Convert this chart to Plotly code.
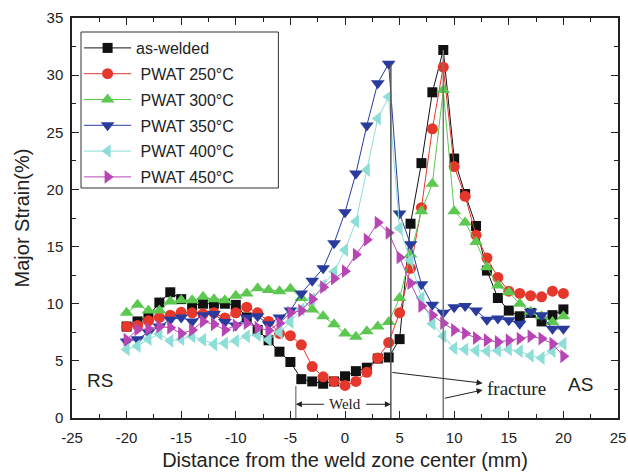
import plotly.graph_objects as go

x_mm = list(range(-20, 21))

as_welded = [8.0, 8.45, 8.9, 10.1, 11.0, 10.4, 9.9, 10.0, 10.0, 10.0, 9.9, 8.8, 7.7, 6.8, 5.8, 4.9, 3.4, 3.2, 3.0, 3.2,
             3.65, 4.1, 4.4, 5.2, 5.3, 6.9, 17.0, 22.3, 28.5, 32.2, 22.7, 19.6, 16.8, 12.9, 10.5, 9.4, 8.9, 9.2, 8.45, 9.0, 9.5]
pwat_250 = [8.0, 8.1, 8.5, 8.8, 9.0, 9.25, 9.2, 9.1, 9.2, 8.75, 9.2, 9.7, 9.2, 8.45, 7.4, 7.2, 6.4, 4.5, 3.6, 3.2,
            2.85, 3.2, 4.0, 5.25, 6.6, 9.2, 13.1, 18.4, 25.3, 30.7, 22.0, 19.4, 16.0, 14.0, 12.3, 11.1, 10.9, 10.7, 10.6, 11.1, 10.9]
pwat_300 = [9.2, 9.9, 9.4, 9.4, 10.2, 10.3, 10.3, 10.6, 10.4, 10.3, 10.7, 10.9, 11.35, 11.2, 11.1, 11.3, 10.5, 9.5, 8.9, 8.2,
            7.4, 7.1, 7.6, 8.0, 8.4, 10.5, 14.3, 18.1, 20.5, 28.7, 18.1, 17.1, 15.4, 13.2, 11.6, 11.0, 10.0, 9.3, 8.9, 8.4, 8.9]
pwat_350 = [6.7, 6.9, 7.5, 8.0, 8.6, 8.8, 8.45, 9.0, 9.1, 8.4, 8.1, 8.8, 8.9, 8.2, 8.8, 9.4, 10.9, 12.0, 13.1, 15.3,
            18.0, 21.4, 25.6, 29.3, 31.0, 17.9, 15.2, 11.7, 9.9, 9.2, 9.7, 9.8, 9.4, 8.6, 8.7, 8.55, 8.25, 9.3, 9.0, 7.8, 7.8]
pwat_400 = [6.0, 6.3, 6.9, 7.35, 6.75, 6.9, 7.15, 6.85, 6.45, 6.55, 6.75, 7.15, 7.25, 6.85, 7.5, 8.4, 9.5, 10.4, 11.6, 12.8,
            14.7, 17.2, 21.7, 26.2, 28.1, 16.6, 13.8, 10.5, 8.25, 7.15, 6.1, 6.0, 5.9, 5.85, 5.9, 6.0, 5.85, 5.45, 5.25, 5.85, 6.5]
pwat_450 = [6.85, 7.75, 7.8, 8.0, 7.9, 7.4, 7.7, 8.45, 8.2, 7.7, 8.1, 8.3, 7.9, 7.65, 8.3, 9.2, 9.4, 10.4, 11.45, 12.2,
            12.85, 14.3, 15.6, 17.1, 16.2, 14.05, 11.8, 9.8, 9.0, 8.3, 7.7, 7.4, 7.0, 6.8, 6.65, 6.8, 6.95, 7.15, 6.95, 6.5, 5.4]

series_names = ["as-welded", " PWAT 250°C", " PWAT 300°C", " PWAT 350°C", " PWAT 400°C", " PWAT 450°C"]
series_values = [as_welded, pwat_250, pwat_300, pwat_350, pwat_400, pwat_450]
colors = ["#111111", "#e5372b", "#5cc850", "#2a3b9e", "#8cded7", "#b746b4"]
symbols = ["square", "circle", "triangle-up", "triangle-down", "triangle-left", "triangle-right"]
sizes = [10, 11, 12, 12, 12, 12]

x_ticks = [-25, -20, -15, -10, -5, 0, 5, 10, 15, 20, 25]
y_ticks = [0, 5, 10, 15, 20, 25, 30, 35]

# annotation positions (mm, %)
weld_left, weld_right = -4.5, 4.2
fracture_x = 9.0

fig = go.Figure()
for i, (name, vals) in enumerate(zip(series_names, series_values)):
    fig.add_trace(go.Scatter(
        x=x_mm, y=vals, name=name, mode="lines+markers",
        legendgroup=f"g{i}",
        line=dict(color=colors[i], width=1),
        marker=dict(symbol=symbols[i], size=sizes[i], color=colors[i], line=dict(width=0)),
    ))

line_col = "#555555"
fig.add_shape(type="line", x0=weld_right, x1=weld_right, y0=0, y1=31.0, line=dict(color=line_col, width=1.5), layer="above")
fig.add_shape(type="line", x0=fracture_x, x1=fracture_x, y0=0, y1=32.2, line=dict(color="#777777", width=1.5), layer="above")
fig.add_shape(type="line", x0=weld_left, x1=weld_left, y0=0, y1=2.8, line=dict(color=line_col, width=1), layer="above")

# legend frame
fig.add_shape(type="rect", xref="paper", yref="paper", x0=0.0165, x1=0.378, y0=0.575, y1=0.965,
              line=dict(color="#333333", width=1), fillcolor="rgba(0,0,0,0)", layer="above")

serif = "Liberation Serif, Times New Roman, serif"
sans = "Liberation Sans, Arial, sans-serif"

fig.add_annotation(x=weld_left, y=1.2, ax=-1.8, ay=1.2, xref="x", yref="y", axref="x", ayref="y",
                   showarrow=True, arrowhead=2, arrowsize=1.2, arrowwidth=1, arrowcolor="#222", text="")
fig.add_annotation(x=weld_right, y=1.2, ax=1.8, ay=1.2, xref="x", yref="y", axref="x", ayref="y",
                   showarrow=True, arrowhead=2, arrowsize=1.2, arrowwidth=1, arrowcolor="#222", text="")
fig.add_annotation(x=0, y=1.2, text="Weld", showarrow=False, font=dict(family=serif, size=15, color="#222"))

fig.add_annotation(x=12.6, y=3.05, ax=weld_right, ay=4.0, xref="x", yref="y", axref="x", ayref="y",
                   showarrow=True, arrowhead=2, arrowsize=1.2, arrowwidth=1, arrowcolor="#222", text="")
fig.add_annotation(x=12.6, y=2.45, ax=fracture_x, ay=1.7, xref="x", yref="y", axref="x", ayref="y",
                   showarrow=True, arrowhead=2, arrowsize=1.2, arrowwidth=1, arrowcolor="#222", text="")
fig.add_annotation(x=15.7, y=2.6, text="fracture", showarrow=False, font=dict(family=serif, size=19, color="#222"))

fig.add_annotation(x=-22.4, y=3.3, text="RS", showarrow=False, font=dict(family=sans, size=19, color="#222"))
fig.add_annotation(x=21.6, y=2.9, text="AS", showarrow=False, font=dict(family=sans, size=19, color="#222"))

axis_common = dict(
    showline=True, linecolor="#222", linewidth=1.5, mirror="allticks",
    ticks="inside", ticklen=7, tickwidth=1.2, tickcolor="#222",
    showgrid=False, zeroline=False, automargin=False,
    tickfont=dict(family=sans, size=15, color="#222"),
    minor=dict(ticks="inside", ticklen=4, tickwidth=1.2, tickcolor="#222", showgrid=False),
)

fig.update_xaxes(range=[-25, 25], tickvals=x_ticks, ticktext=[str(v) for v in x_ticks],
                 minor_dtick=2.5, minor_tick0=0, ticklabeloverflow="allow", ticklabelstandoff=5,
                 title=dict(text="Distance from the weld zone center (mm)", font=dict(family=sans, size=20, color="#222"), standoff=8),
                 **axis_common)
fig.update_yaxes(range=[0, 35], tickvals=y_ticks, ticktext=[str(v) for v in y_ticks],
                 minor_dtick=2.5, minor_tick0=0, ticklabelstandoff=4,
                 title=dict(text="Major Strain(%)", font=dict(family=sans, size=20, color="#222"), standoff=12),
                 **axis_common)

fig.update_layout(
    width=628, height=472,
    margin=dict(l=72, r=10, t=18, b=54),
    paper_bgcolor="white", plot_bgcolor="white",
    showlegend=True,
    legend=dict(x=0.013, y=0.9675, xanchor="left", yanchor="top",
                borderwidth=0, bgcolor="rgba(0,0,0,0)",
                font=dict(family=sans, size=16, color="#222"),
                tracegroupgap=2, itemwidth=47),
)

fig.write_html("out.html", config={"displayModeBar": False},
               post_script="document.body.style.margin='0px';document.body.style.overflow='hidden';")
